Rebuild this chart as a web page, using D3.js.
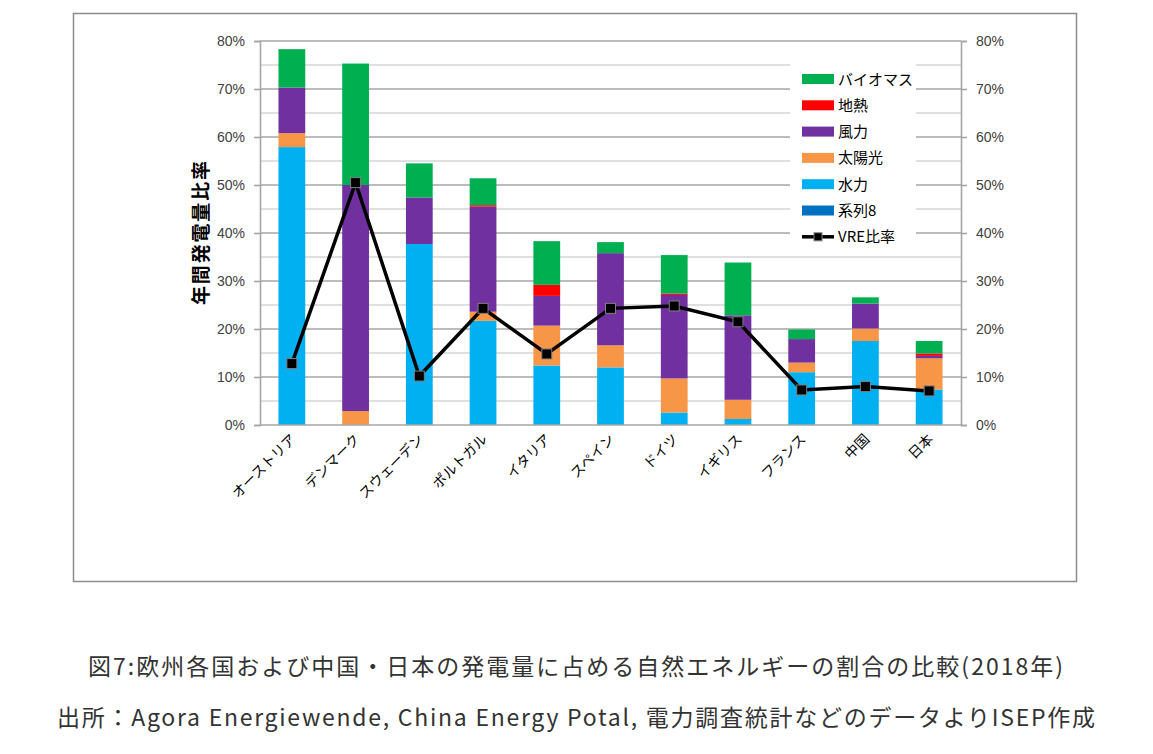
<!DOCTYPE html>
<html><head><meta charset="utf-8">
<script src="https://cdn.jsdelivr.net/npm/d3@7"></script>
<style>
html,body{margin:0;padding:0;background:#fff;}
svg{display:block;font-family:"Noto Sans CJK JP","Noto Sans",sans-serif;}
</style></head>
<body>
<svg id="chart" width="1153" height="754"></svg>
<script>
const categories = ["オーストリア","デンマーク","スウェーデン","ポルトガル","イタリア","スペイン","ドイツ","イギリス","フランス","中国","日本"];
const series8  = [0,0,0,0,0,0,0,0,0,0,0];
const hydro    = [57.9, 0, 37.7, 21.7, 12.4, 12.0, 2.6, 1.25, 11.0, 17.5, 7.4];
const solar    = [2.9, 2.9, 0, 1.9, 8.3, 4.6, 7.1, 4.0, 2.0, 2.6, 6.5];
const wind     = [9.5, 47.1, 9.7, 21.9, 6.2, 19.2, 17.4, 17.6, 4.9, 5.2, 0.5];
const geo      = [0, 0, 0, 0.3, 2.3, 0, 0.3, 0, 0, 0, 0.5];
const biomass  = [8.0, 25.3, 7.1, 5.6, 9.1, 2.3, 8.0, 11.0, 2.0, 1.3, 2.6];
const vre      = [12.8, 50.5, 10.2, 24.3, 14.8, 24.3, 24.8, 21.5, 7.3, 8.0, 7.1];
const yTicks   = [0,10,20,30,40,50,60,70,80];
const seriesNames = ["系列8","水力","太陽光","風力","地熱","バイオマス"];
const legendOrder = ["バイオマス","地熱","風力","太陽光","水力","系列8"];
const colors = {"系列8":"#0070c0","水力":"#00b0f0","太陽光":"#f79646","風力":"#7030a0","地熱":"#ff0000","バイオマス":"#00b050"};
const seriesData = {"系列8":series8,"水力":hydro,"太陽光":solar,"風力":wind,"地熱":geo,"バイオマス":biomass};
const caption1 = "図7:欧州各国および中国・日本の発電量に占める自然エネルギーの割合の比較(2018年)";
const caption2 = "出所：Agora Energiewende, China Energy Potal, 電力調査統計などのデータよりISEP作成";

const svg = d3.select("#chart");
// frame
svg.append("rect").attr("x",73.5).attr("y",13.5).attr("width",1003).attr("height",568)
  .attr("fill","#fff").attr("stroke","#8c8c8c").attr("stroke-width",1.5);

const L=260, R=961, T=41, B=425;
const x = d3.scaleBand().domain(categories).range([L,R]).paddingInner(0.58).paddingOuter(0.29);
const y = d3.scaleLinear().domain([0,80]).range([B,T]);

// gridlines every 5%
const gridVals = d3.range(5,81,5);
svg.append("g").selectAll("line").data(gridVals).join("line")
  .attr("x1",L).attr("x2",R).attr("y1",d=>y(d)).attr("y2",d=>y(d))
  .attr("stroke",d=>d%10===0?"#a6a6a6":"#d4d4d4").attr("stroke-width",1.6);

// stacked bars
const table = categories.map((c,i)=>{const o={cat:c}; seriesNames.forEach(s=>o[s]=seriesData[s][i]); return o;});
const stack = d3.stack().keys(seriesNames)(table);
svg.append("g").selectAll("g").data(stack).join("g").attr("fill",d=>colors[d.key])
  .selectAll("rect").data(d=>d).join("rect")
  .attr("x",d=>x(d.data.cat)).attr("width",x.bandwidth())
  .attr("y",d=>y(d[1])).attr("height",d=>Math.max(0,y(d[0])-y(d[1])));

// axes
const axL = d3.axisLeft(y).tickValues(yTicks).tickFormat(d=>d+"%").tickSize(6).tickPadding(9);
const gL = svg.append("g").attr("transform",`translate(${L},0)`).call(axL);
const axR = d3.axisRight(y).tickValues(yTicks).tickFormat(d=>d+"%").tickSize(6).tickPadding(9);
const gR = svg.append("g").attr("transform",`translate(${R},0)`).call(axR);
[gL,gR].forEach(g=>{
  g.select(".domain").attr("stroke","#a6a6a6").attr("stroke-width",1.6);
  g.selectAll(".tick line").attr("stroke","#a6a6a6").attr("stroke-width",1.6);
  g.selectAll(".tick text").attr("fill","#404040").style("font-size","14px").style("font-family","'Liberation Sans',Arial,sans-serif");
});
// bottom axis line
svg.append("line").attr("x1",L).attr("x2",R).attr("y1",B).attr("y2",B).attr("stroke","#a6a6a6").attr("stroke-width",1.6);

// x labels
svg.append("g").selectAll("text").data(categories).join("text")
  .attr("transform",d=>`translate(${x(d)+x.bandwidth()/2+5},${B+15}) rotate(-45)`)
  .attr("text-anchor","end").attr("fill","#000").style("font-size","14px").text(d=>d);

// y title
svg.append("text").attr("transform",`translate(208,233) rotate(-90)`).attr("text-anchor","middle")
  .attr("textLength",144).attr("lengthAdjust","spacing")
  .style("font-size","19px").style("font-weight","bold").attr("fill","#000").text("年間発電量比率");

// VRE line
const line = d3.line().x((d,i)=>x(categories[i])+x.bandwidth()/2).y(d=>y(d));
svg.append("path").datum(vre).attr("d",line).attr("fill","none").attr("stroke","#000").attr("stroke-width",3.5);
svg.append("g").selectAll("rect").data(vre).join("rect")
  .attr("x",(d,i)=>x(categories[i])+x.bandwidth()/2-5).attr("y",d=>y(d)-5)
  .attr("width",10).attr("height",10).attr("fill","#000").attr("stroke","#808080").attr("stroke-width",1);

// legend
const lg = svg.append("g");
lg.append("rect").attr("x",790).attr("y",63).attr("width",126).attr("height",187).attr("fill","#fff");
legendOrder.forEach((name,i)=>{
  const yy = 79 + i*26.3;
  lg.append("rect").attr("x",802).attr("y",yy-5).attr("width",32).attr("height",10).attr("fill",colors[name]);
  lg.append("text").attr("x",838).attr("y",yy+5.5).style("font-size","15px").attr("fill","#000").text(name);
});
{
  const yy = 79 + 6*26.3;
  lg.append("line").attr("x1",802).attr("x2",834).attr("y1",yy).attr("y2",yy).attr("stroke","#000").attr("stroke-width",3.5);
  lg.append("rect").attr("x",814).attr("y",yy-4).attr("width",8).attr("height",8).attr("fill","#000").attr("stroke","#808080");
  lg.append("text").attr("x",838).attr("y",yy+5.5).style("font-size","15px").attr("fill","#000").text("VRE比率");
}

// captions
svg.append("text").attr("x",88).attr("y",675).attr("fill","#333")
  .attr("textLength",975).attr("lengthAdjust","spacing")
  .style("font-size","23px").text(caption1);
svg.append("text").attr("x",57).attr("y",726).attr("fill","#333")
  .attr("textLength",1038).attr("lengthAdjust","spacing")
  .style("font-size","23px").text(caption2);
</script>
</body></html>
